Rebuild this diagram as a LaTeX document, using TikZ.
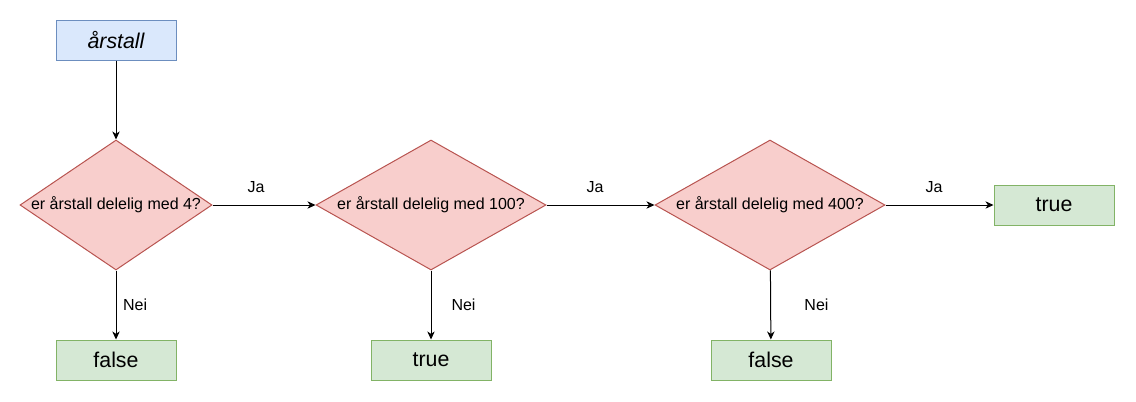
\documentclass[tikz,border=0pt]{standalone}
\usepackage{fontspec}
\setmainfont{Liberation Sans}
\usetikzlibrary{arrows.meta,shapes.geometric}
\definecolor{startblue}{HTML}{DAE8FC}
\definecolor{startborder}{HTML}{6C8EBF}
\definecolor{testred}{HTML}{F8CECC}
\definecolor{testborder}{HTML}{B85450}
\definecolor{resultgreen}{HTML}{D5E8D4}
\definecolor{resultborder}{HTML}{82B366}
\tikzset{
  line/.style={draw=black, -{Stealth[length=6pt,width=5.5pt,inset=1.8pt]}, line width=0.75pt},
  box/.style={
    rectangle,
    minimum width=90pt,
    minimum height=30pt,
    inner sep=0pt,
    line width=0.75pt,
    font=\fontsize{16}{19}\selectfont
  },
  startbox/.style={box, fill=startblue, draw=startborder, font=\itshape\fontsize{16}{19}\selectfont},
  resultbox/.style={box, fill=resultgreen, draw=resultborder},
  decision/.style={
    diamond,
    fill=testred,
    draw=testborder,
    line width=0.75pt,
    inner sep=0pt,
    minimum height=97.5pt
  },
  lbl/.style={font=\fontsize{12}{14}\selectfont, inner sep=0pt}
}

\begin{document}
\begin{tikzpicture}[x=0.75pt,y=-0.75pt]
  \path[use as bounding box] (0,0) rectangle (1136,401);

  \node[startbox] (aar) at (116,40) {årstall};

  \node[decision, minimum width=144pt, label={[lbl]center:er årstall delelig med 4?}] (d4) at (116,205) {};
  \node[decision, minimum width=172.5pt, label={[lbl]center:er årstall delelig med 100?}] (d100) at (431,205) {};
  \node[decision, minimum width=172.5pt, label={[lbl]center:er årstall delelig med 400?}] (d400) at (770,205) {};

  \node[resultbox] (true400) at (1054,205) {true};
  \node[resultbox] (false4) at (116,360) {false};
  \node[resultbox] (true100) at (431,360) {true};
  \node[resultbox] (false400) at (771,360) {false};

  \draw[line] (aar) -- (d4);
  \draw[line] (d4) -- node[lbl, above=9pt, xshift=-6pt] {Ja} (d100);
  \draw[line] (d100) -- node[lbl, above=9pt, xshift=-4pt] {Ja} (d400);
  \draw[line] (d400) -- node[lbl, above=9pt, xshift=-4pt] {Ja} (true400);
  \draw[line] (d4) -- node[lbl, right=5pt] {Nei} (false4);
  \draw[line] (d100) -- node[lbl, right=15pt] {Nei} (true100);
  \draw[line] (d400) -- node[lbl, right=25pt] {Nei} (false400);
\end{tikzpicture}
\end{document}
